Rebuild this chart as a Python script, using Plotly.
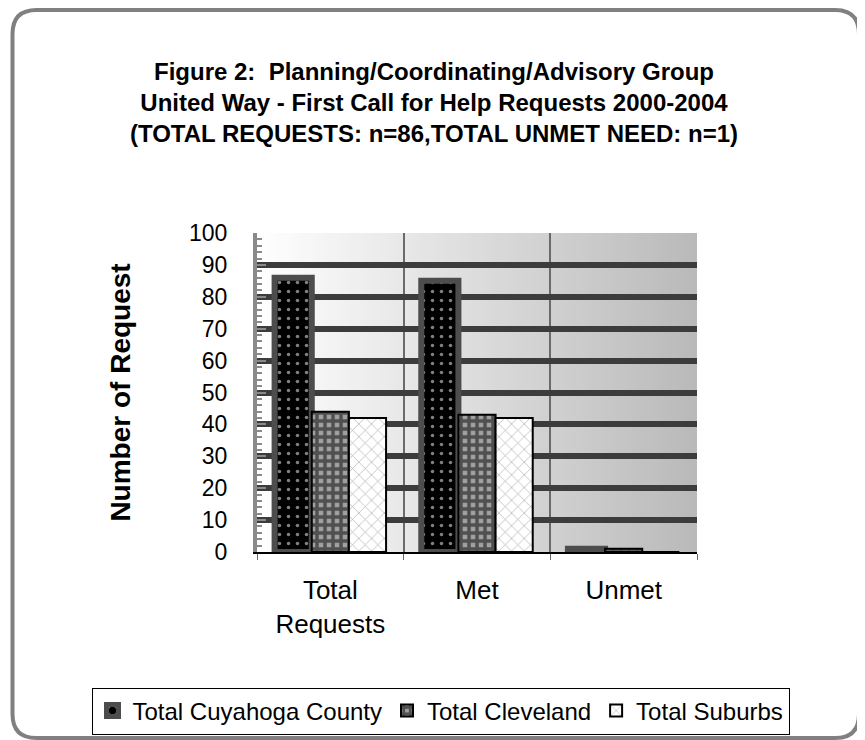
import plotly.graph_objects as go

categories = ["Total<br>Requests", "Met", "Unmet"]
series_names = ["Total Cuyahoga County", "Total Cleveland", "Total Suburbs"]
cuyahoga = [86, 85, 1]
cleveland = [44, 43, 1]
suburbs = [42, 42, 0]
y_ticks = list(range(0, 101, 10))

FONT = "Liberation Sans, Arial, sans-serif"
W, H = 865, 740
OFF = 8  # page body margin: screenshot position = figure position + OFF
PX0, PX1, PY0, PY1 = 257 - OFF, 697 - OFF, 233 - OFF, 552 - OFF

fig = go.Figure()

styles = [
    dict(color="black", pattern=dict(shape=".", fgcolor="white", bgcolor="black", size=9, solidity=0.12),
         line=dict(color="#4d4d4d", width=6)),
    dict(color="#808080", pattern=dict(shape="+", fgcolor="black", bgcolor="#a0a0a0", size=8, solidity=0.68),
         line=dict(color="black", width=2)),
    dict(color="white", pattern=dict(shape="x", fgcolor="#555555", bgcolor="white", size=9, solidity=0.14),
         line=dict(color="black", width=2)),
]
for name, vals, st in zip(series_names, [cuyahoga, cleveland, suburbs], styles):
    fig.add_trace(go.Bar(name=name, x=categories, y=vals, marker=st))

# gradient background of the plot area
shapes = []
N = 88
for i in range(N):
    t = (i + 0.5) / N
    v = int(round(255 - t * 70))
    shapes.append(dict(type="rect", xref="x domain", yref="y domain", x0=i / N, x1=(i + 1) / N,
                       y0=0, y1=1, fillcolor=f"rgb({v},{v},{v})", line=dict(width=0), layer="below"))

# rounded outer frame
fx0, fx1 = 4.5 / W, 851 / W
fy1, fy0 = 1 - 2 / H, 1 - 730 / H
rx, ry = 24 / W, 24 / H
path = (f"M {fx0+rx},{fy1} L {fx1-rx},{fy1} Q {fx1},{fy1} {fx1},{fy1-ry} "
        f"L {fx1},{fy0+ry} Q {fx1},{fy0} {fx1-rx},{fy0} L {fx0+rx},{fy0} "
        f"Q {fx0},{fy0} {fx0},{fy0+ry} L {fx0},{fy1-ry} Q {fx0},{fy1} {fx0+rx},{fy1} Z")
shapes.append(dict(type="path", xref="paper", yref="paper", path=path,
                   line=dict(color="#808080", width=4), layer="above"))

fig.update_layout(
    width=W, height=H,
    margin=dict(l=0, r=0, t=0, b=0),
    paper_bgcolor="white", plot_bgcolor="rgba(0,0,0,0)",
    barmode="group", bargap=0.24, bargroupgap=0.0,
    font=dict(family=FONT, color="black"),
    title=dict(text="<b>Figure 2:  Planning/Coordinating/Advisory Group<br>"
                    "United Way - First Call for Help Requests 2000-2004<br>"
                    "(TOTAL REQUESTS: n=86,TOTAL UNMET NEED: n=1)</b>",
               font=dict(size=24, family=FONT, color="black"),
               x=(434 - OFF) / W, xanchor="center", xref="paper", y=1 - 72 / H, yanchor="middle",
               yref="container"),
    shapes=shapes,
    showlegend=True,
    legend=dict(orientation="h", x=((97 + 784) / 2 - OFF) / W, xanchor="center", y=1 - (711 - OFF) / H,
                yanchor="middle", bordercolor="black", borderwidth=1, bgcolor="white",
                font=dict(size=24, family=FONT), itemwidth=30, traceorder="normal"),
)

fig.update_xaxes(
    domain=[PX0 / W, PX1 / W], type="category",
    tickson="boundaries", showgrid=True, gridcolor="#6a6a6a", gridwidth=1.5,
    ticks="outside", ticklen=6, tickcolor="#6a6a6a",
    showline=True, linecolor="black", linewidth=1.5,
    tickfont=dict(size=26, family=FONT), ticklabelstandoff=14, automargin=False,
)
fig.update_yaxes(
    domain=[1 - PY1 / H, 1 - PY0 / H], range=[0, 100],
    tickvals=y_ticks, ticktext=[str(v) for v in y_ticks],
    showgrid=True, gridcolor="#3c3c3c", gridwidth=6,
    showline=True, linecolor="#8a8a8a", linewidth=4,
    ticks="inside", ticklen=9, tickcolor="#8a8a8a", tickwidth=2,
    minor=dict(dtick=2, ticks="inside", ticklen=5, tickcolor="#8a8a8a", tickwidth=2, showgrid=False),
    tickfont=dict(size=23, family=FONT), ticklabelstandoff=21, zeroline=False,
    title=dict(text="<b>Number of Request</b>", font=dict(size=28, family=FONT), standoff=51),
    automargin=False,
)

fig.write_html("out.html")
